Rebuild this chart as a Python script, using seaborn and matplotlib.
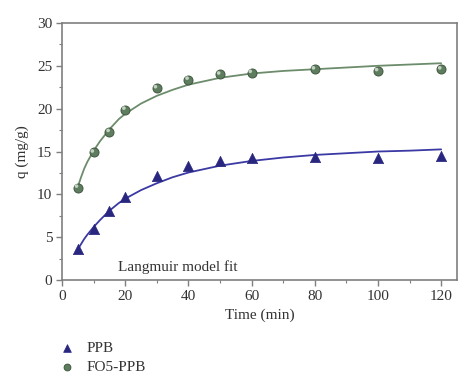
import numpy as np
import pandas as pd
import matplotlib
matplotlib.use("Agg")
import matplotlib.pyplot as plt
import matplotlib.transforms as mtransforms
import seaborn as sns

# Experimental data
time = [5, 10, 15, 20, 30, 40, 50, 60, 80, 100, 120]
q_ppb = [3.6, 6.0, 8.1, 9.7, 12.1, 13.3, 13.9, 14.2, 14.4, 14.3, 14.5]
q_fo5 = [10.8, 14.9, 17.3, 19.9, 22.4, 23.4, 24.0, 24.2, 24.6, 24.4, 24.6]

# Fitted curves
t_fit = [5, 6, 7, 8, 10, 12, 15, 18, 20, 25, 30, 35, 40, 50, 60, 70, 80, 90, 100, 110, 120]
fit_fo5 = [10.9, 12.0, 13.0, 13.8, 15.1, 16.2, 17.6, 18.8, 19.4, 20.6, 21.5, 22.2, 22.8,
           23.6, 24.1, 24.4, 24.6, 24.8, 25.0, 25.15, 25.3]
fit_ppb = [3.6, 4.2, 4.8, 5.3, 6.2, 7.0, 8.1, 9.0, 9.5, 10.5, 11.3, 12.0, 12.55,
           13.35, 13.9, 14.3, 14.6, 14.8, 15.0, 15.1, 15.25]

x_ticks = [0, 20, 40, 60, 80, 100, 120]
y_ticks = [0, 5, 10, 15, 20, 25, 30]

sns.set_theme(style="ticks")
plt.rcParams["font.family"] = ["Liberation Serif", "DejaVu Serif"]

fig = plt.figure(figsize=(4.74, 3.89), dpi=100)
ax = fig.add_axes([0.131, 0.280, 0.833, 0.661])

df_pts = pd.DataFrame({"t": time, "ppb": q_ppb, "fo5": q_fo5})
df_fit = pd.DataFrame({"t": t_fit, "ppb": fit_ppb, "fo5": fit_fo5})

blue = "#28267f"
blue_line = "#3b39a3"
green = "#5e7c5e"
green_edge = "#40583f"
green_line = "#6c8c6c"

sns.lineplot(data=df_fit, x="t", y="fo5", ax=ax, color=green_line, lw=1.3)
sns.lineplot(data=df_fit, x="t", y="ppb", ax=ax, color=blue_line, lw=1.3)

h1 = ax.scatter(df_pts["t"], df_pts["ppb"], marker="^", s=55, color=blue,
                edgecolor=blue, linewidth=0.5, zorder=3, label="PPB")
h2 = ax.scatter(df_pts["t"], df_pts["fo5"], marker="o", s=42, color=green,
                edgecolor=green_edge, linewidth=0.7, zorder=3, label="FO5-PPB")
# sphere highlight (offset up-left)
hl = mtransforms.offset_copy(ax.transData, fig=fig, x=-1.0, y=1.0, units="points")
ax.scatter(df_pts["t"], df_pts["fo5"], marker="o", s=7, color="#c2d2c2",
           edgecolor="none", zorder=4, transform=hl)

ax.set_xlim(0, 125)
ax.set_ylim(0, 30)
ax.set_xticks(x_ticks)
ax.set_yticks(y_ticks)
ax.set_xticks(np.arange(10, 125, 20), minor=True)
ax.set_yticks(np.arange(2.5, 30, 5), minor=True)

for s in ax.spines.values():
    s.set_color("#7f7f7f")
    s.set_linewidth(1.2)
ax.tick_params(which="major", direction="out", length=4, width=1, color="#7f7f7f",
               labelsize=11, labelcolor="#333333", pad=3)
ax.tick_params(which="minor", direction="out", length=2.5, width=0.8, color="#7f7f7f")

ax.set_xlabel("Time (min)", fontsize=11, color="#333333", labelpad=4)
ax.set_ylabel("q (mg/g)", fontsize=11, color="#333333", labelpad=6)

ax.text(17.6, 1.1, "Langmuir model fit", fontsize=11, color="#333333",
        ha="left", va="baseline")

fig.legend(handles=[h1, h2], labels=["PPB", "FO5-PPB"], loc="upper left",
           bbox_to_anchor=(0.08, 0.158), frameon=False, fontsize=11,
           handletextpad=0.3, labelspacing=0.35, markerscale=0.75,
           labelcolor="#333333")

fig.savefig("out.png", dpi=100, facecolor="white")
